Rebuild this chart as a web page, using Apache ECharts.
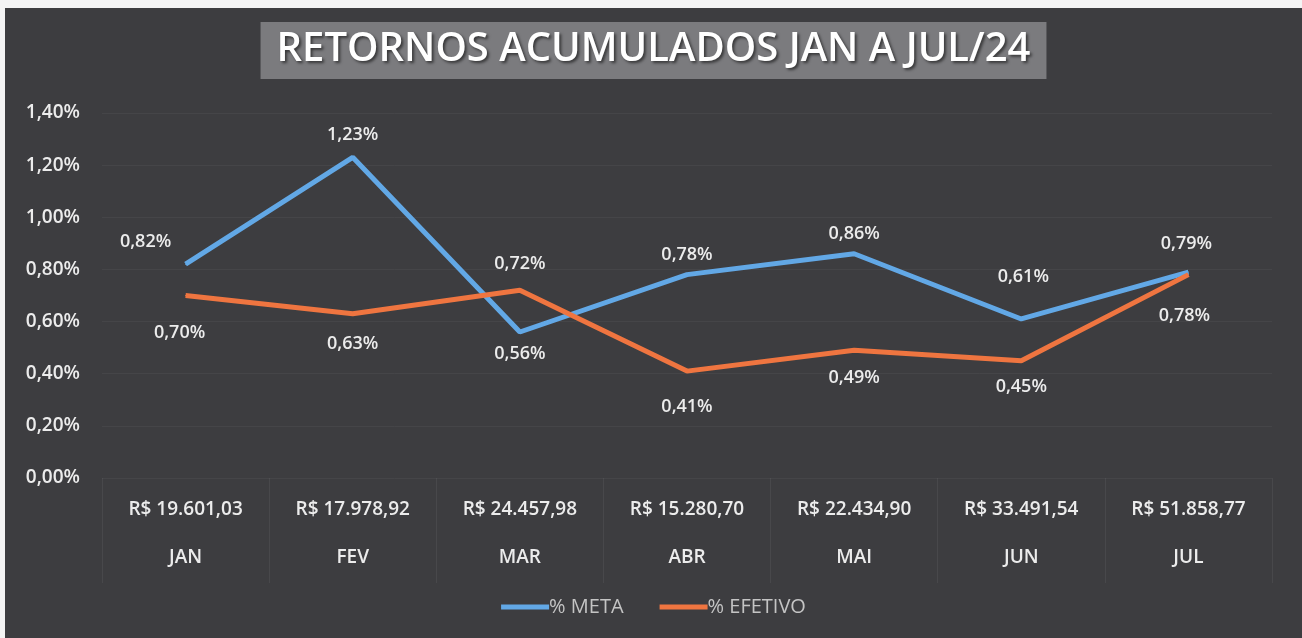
<!DOCTYPE html>
<html>
<head>
<meta charset="utf-8">
<script src="https://cdn.jsdelivr.net/npm/echarts@6/dist/echarts.min.js"></script>
<style>
  html, body { margin: 0; padding: 0; background: #f4f4f4; }
  #chart { position: absolute; left: 5px; top: 8px; width: 1297px; height: 630px; background: #3d3d40; }
</style>
</head>
<body>
<div id="chart"></div>
<script>
const months = ['JAN', 'FEV', 'MAR', 'ABR', 'MAI', 'JUN', 'JUL'];
const returnsBRL = ['R$ 19.601,03', 'R$ 17.978,92', 'R$ 24.457,98', 'R$ 15.280,70', 'R$ 22.434,90', 'R$ 33.491,54', 'R$ 51.858,77'];
const metaPct = [0.82, 1.23, 0.56, 0.78, 0.86, 0.61, 0.79];
const efetivoPct = [0.70, 0.63, 0.72, 0.41, 0.49, 0.45, 0.78];

// label placement per point (Excel put them by hand)
const metaLabelOffset = [[-40, -22], [0, -22], [0, 22], [0, -20], [0, -20], [2, -42], [-2, -28]];
const efetivoLabelOffset = [[-6, 37], [0, 30], [0, -26], [0, 36], [0, 28], [0, 26], [-4, 41]];

const pct = (v) => v.toFixed(2).replace('.', ',') + '%';
const FONT = 'Open Sans';
const TXT = '#ececec';

const labelStyle = {
  show: true,
  position: 'inside',
  color: TXT,
  fontFamily: FONT,
  fontSize: 18,
  fontWeight: 600,
  formatter: (p) => pct(p.value),
};

const withOffsets = (values, offsets) => values.map((v, i) => ({
  value: v,
  label: { offset: offsets[i] },
}));

const chart = echarts.init(document.getElementById('chart'));
chart.setOption({
  backgroundColor: '#3d3d40',
  animation: false,
  title: {
    text: 'RETORNOS ACUMULADOS JAN A JUL/24',
    left: 'center',
    top: 14,
    padding: [8, 16, 9, 16],
    backgroundColor: '#7b7b7e',
    textStyle: {
      color: '#ffffff',
      fontFamily: FONT,
      fontSize: 40,
      fontWeight: 600,
      textShadowColor: 'rgba(0,0,0,0.55)',
      textShadowBlur: 3,
      textShadowOffsetX: 2,
      textShadowOffsetY: 2,
    },
  },
  legend: {
    bottom: 16,
    left: 'center',
    itemWidth: 48,
    itemHeight: 5,
    itemGap: 36,
    icon: 'rect',
    textStyle: { color: '#c4c4c4', fontFamily: FONT, fontSize: 20, padding: [0, 0, 0, -5] },
    data: ['% META', '% EFETIVO'],
  },
  grid: { left: 97, right: 30, top: 105, bottom: 160 },
  xAxis: {
    type: 'category',
    data: months,
    boundaryGap: true,
    axisLine: { show: false },
    axisTick: { show: true, length: 105, lineStyle: { color: 'rgba(255,255,255,0.06)' } },
    axisLabel: {
      interval: 0,
      margin: 8,
      formatter: (val, idx) => `{v|${returnsBRL[idx]}}\n{m|${val}}`,
      rich: {
        v: { color: TXT, fontFamily: FONT, fontSize: 19, fontWeight: 600, lineHeight: 48 },
        m: { color: TXT, fontFamily: FONT, fontSize: 19, fontWeight: 600, lineHeight: 48 },
      },
    },
  },
  yAxis: {
    type: 'value',
    min: 0,
    max: 1.4,
    interval: 0.2,
    axisLabel: {
      color: TXT,
      fontFamily: FONT,
      fontSize: 19,
      fontWeight: 600,
      margin: 22,
      formatter: (v) => pct(v),
    },
    axisLine: { show: false },
    axisTick: { show: false },
    splitLine: { lineStyle: { color: 'rgba(255,255,255,0.045)' } },
  },
  series: [
    {
      name: '% META',
      type: 'line',
      data: withOffsets(metaPct, metaLabelOffset),
      showSymbol: true,
      symbol: 'circle',
      symbolSize: 1,
      lineStyle: { color: '#62a8e6', width: 5 },
      itemStyle: { color: '#62a8e6' },
      label: labelStyle,
      z: 3,
    },
    {
      name: '% EFETIVO',
      type: 'line',
      data: withOffsets(efetivoPct, efetivoLabelOffset),
      showSymbol: true,
      symbol: 'circle',
      symbolSize: 1,
      lineStyle: { color: '#ef7540', width: 5 },
      itemStyle: { color: '#ef7540' },
      label: labelStyle,
      z: 4,
    },
  ],
});
</script>
</body>
</html>
